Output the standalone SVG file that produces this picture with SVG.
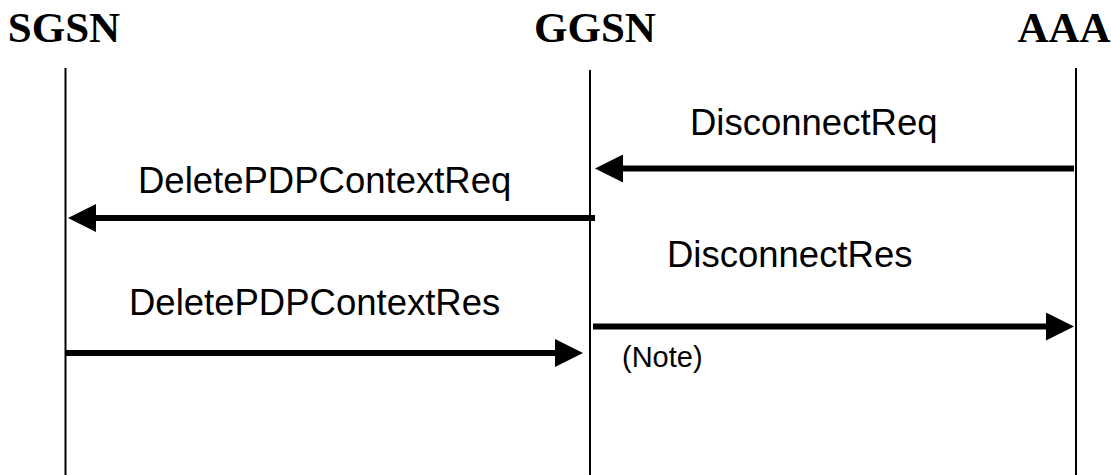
<svg xmlns="http://www.w3.org/2000/svg" width="1111" height="475" viewBox="0 0 1111 475">
<style>
.hdr{font-family:"Liberation Serif","Times New Roman",serif;font-weight:bold;font-size:43px;fill:#000;text-anchor:middle}
.lbl{font-family:"Liberation Sans",Arial,sans-serif;font-size:36.5px;fill:#000}
.note{font-family:"Liberation Sans",Arial,sans-serif;font-size:29px;fill:#000}
.life{stroke:#000;stroke-width:2;fill:none}
.msg{stroke:#000;stroke-width:6;fill:none;marker-end:url(#ah)}
</style>
<defs>
<marker id="ah" markerUnits="userSpaceOnUse" markerWidth="28" markerHeight="28" refX="8" refY="14" orient="auto">
<path d="M0,0 L28,14 L0,28 Z" fill="#000"/>
</marker>
</defs>
<rect width="1111" height="475" fill="#fff"/>
<g id="SGSN">
<text class="hdr" x="64" y="42">SGSN</text>
<line class="life" x1="65.5" y1="68" x2="65.5" y2="475"/>
</g>
<g id="GGSN">
<text class="hdr" x="595" y="42">GGSN</text>
<line class="life" x1="590" y1="70" x2="590" y2="475"/>
</g>
<g id="AAA">
<text class="hdr" x="1064" y="42">AAA</text>
<line class="life" x1="1076" y1="68" x2="1076" y2="475"/>
</g>
<g id="connectors">
<line class="msg" x1="1074" y1="168.5" x2="615" y2="168.5"/>
<text class="lbl" x="690" y="135">DisconnectReq</text>
<line class="msg" x1="595" y1="218" x2="88" y2="218"/>
<text class="lbl" x="138" y="193">DeletePDPContextReq</text>
<line class="msg" x1="593" y1="326.5" x2="1054" y2="326.5"/>
<text class="lbl" x="667" y="267">DisconnectRes</text>
<line class="msg" x1="66" y1="353" x2="563" y2="353"/>
<text class="lbl" x="129" y="315">DeletePDPContextRes</text>
<text class="note" x="622" y="367">(Note)</text>
</g>
</svg>
